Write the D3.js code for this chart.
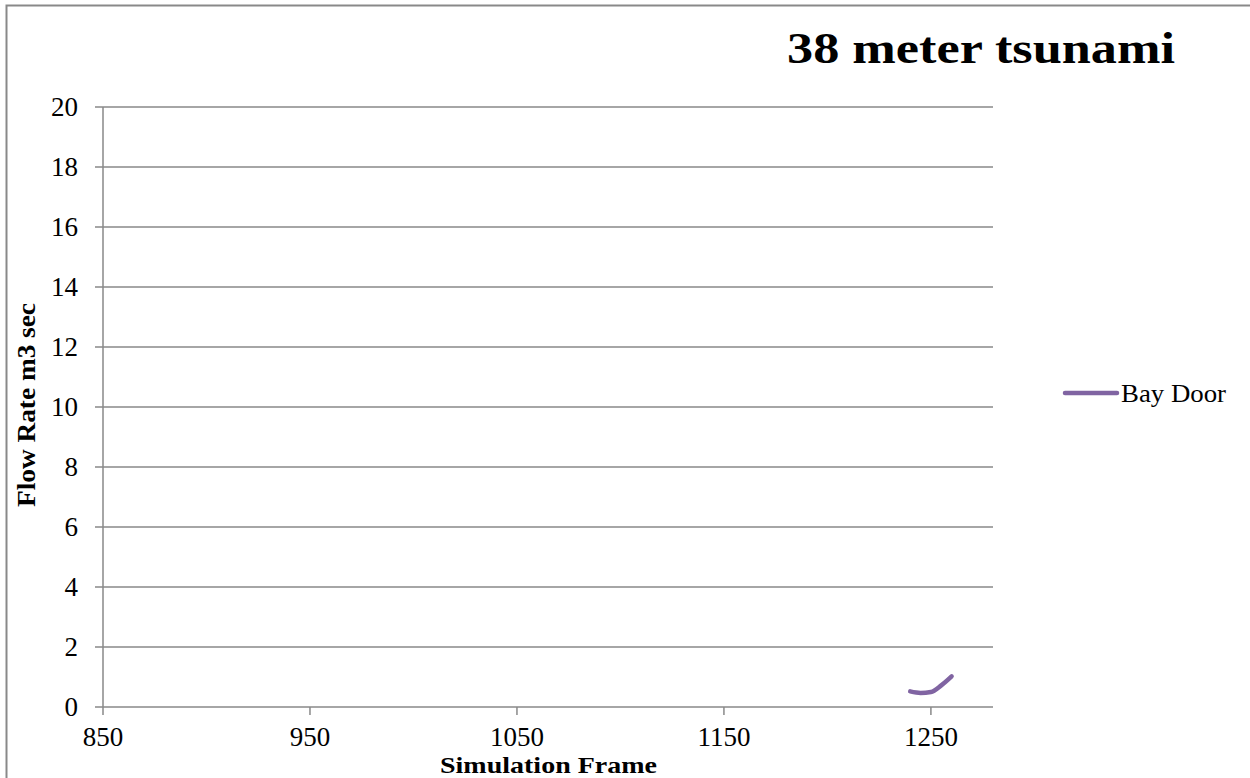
<!DOCTYPE html>
<html><head><meta charset="utf-8">
<script src="https://cdn.jsdelivr.net/npm/d3@7"></script>
<style>body{margin:0;background:#fff;} svg{display:block;font-family:"Liberation Serif","DejaVu Serif",serif;}</style>
</head><body>
<svg id="c" width="1250" height="778"></svg>
<script>
const frames = [1240, 1245, 1250, 1255, 1260];
const bayDoor = [0.52, 0.47, 0.50, 0.72, 1.02];
const xTicks = [850, 950, 1050, 1150, 1250];
const yTicks = [0, 2, 4, 6, 8, 10, 12, 14, 16, 18, 20];
const seriesName = "Bay Door";
const title = "38 meter tsunami";

const svg = d3.select("#c");
const L = 103, R = 993, T = 107, B = 707;
const x = d3.scaleLinear().domain([850, 1280]).range([L, R]);
const y = d3.scaleLinear().domain([0, 20]).range([B, T]);
const grey = "#898989";

// outer border
svg.append("rect").attr("x", 6.5).attr("y", 5.5).attr("width", 1260).attr("height", 800)
  .attr("fill", "none").attr("stroke", grey).attr("stroke-width", 2);

// gridlines
svg.append("g").selectAll("line").data(yTicks).join("line")
  .attr("x1", L - 8).attr("x2", R).attr("y1", d => y(d)).attr("y2", d => y(d))
  .attr("stroke", grey).attr("stroke-width", 1.5);

// y axis line
svg.append("line").attr("x1", L).attr("x2", L).attr("y1", T).attr("y2", B)
  .attr("stroke", grey).attr("stroke-width", 1.5);

// x ticks
svg.append("g").selectAll("line").data(xTicks).join("line")
  .attr("x1", d => x(d)).attr("x2", d => x(d)).attr("y1", B).attr("y2", B + 8)
  .attr("stroke", grey).attr("stroke-width", 1.5);

// y tick labels
svg.append("g").selectAll("text").data(yTicks).join("text")
  .attr("x", 78).attr("y", d => y(d)).attr("dy", "0.35em")
  .attr("text-anchor", "end").attr("font-size", 27).attr("fill", "#000").text(d => d);

// x tick labels
svg.append("g").selectAll("text").data(xTicks).join("text")
  .attr("x", d => x(d)).attr("y", 746)
  .attr("text-anchor", "middle").attr("font-size", 27).attr("fill", "#000").text(d => d);

// line
const line = d3.line().x((d, i) => x(frames[i])).y(d => y(d)).curve(d3.curveMonotoneX);
svg.append("path").datum(bayDoor).attr("d", line)
  .attr("fill", "none").attr("stroke", "#8064a2").attr("stroke-width", 4.5).attr("stroke-linecap", "round");

// title
svg.append("text").attr("x", 787).attr("y", 63)
  .attr("font-size", 44).attr("font-weight", "bold")
  .attr("textLength", 388).attr("lengthAdjust", "spacingAndGlyphs").text(title);

// axis titles
svg.append("text").attr("x", 440).attr("y", 772.5)
  .attr("font-size", 23).attr("font-weight", "bold")
  .attr("textLength", 217).attr("lengthAdjust", "spacingAndGlyphs").text("Simulation Frame");
svg.append("text").attr("transform", "translate(35,507) rotate(-90)")
  .attr("font-size", 26).attr("font-weight", "bold")
  .attr("textLength", 204).attr("lengthAdjust", "spacingAndGlyphs").text("Flow Rate m3 sec");

// legend
svg.append("line").attr("x1", 1065).attr("x2", 1117).attr("y1", 393).attr("y2", 393)
  .attr("stroke", "#8064a2").attr("stroke-width", 4.5).attr("stroke-linecap", "round");
svg.append("text").attr("x", 1121).attr("y", 393).attr("dy", "0.35em")
  .attr("font-size", 26).attr("textLength", 105).attr("lengthAdjust", "spacingAndGlyphs").text(seriesName);
</script>
</body></html>
